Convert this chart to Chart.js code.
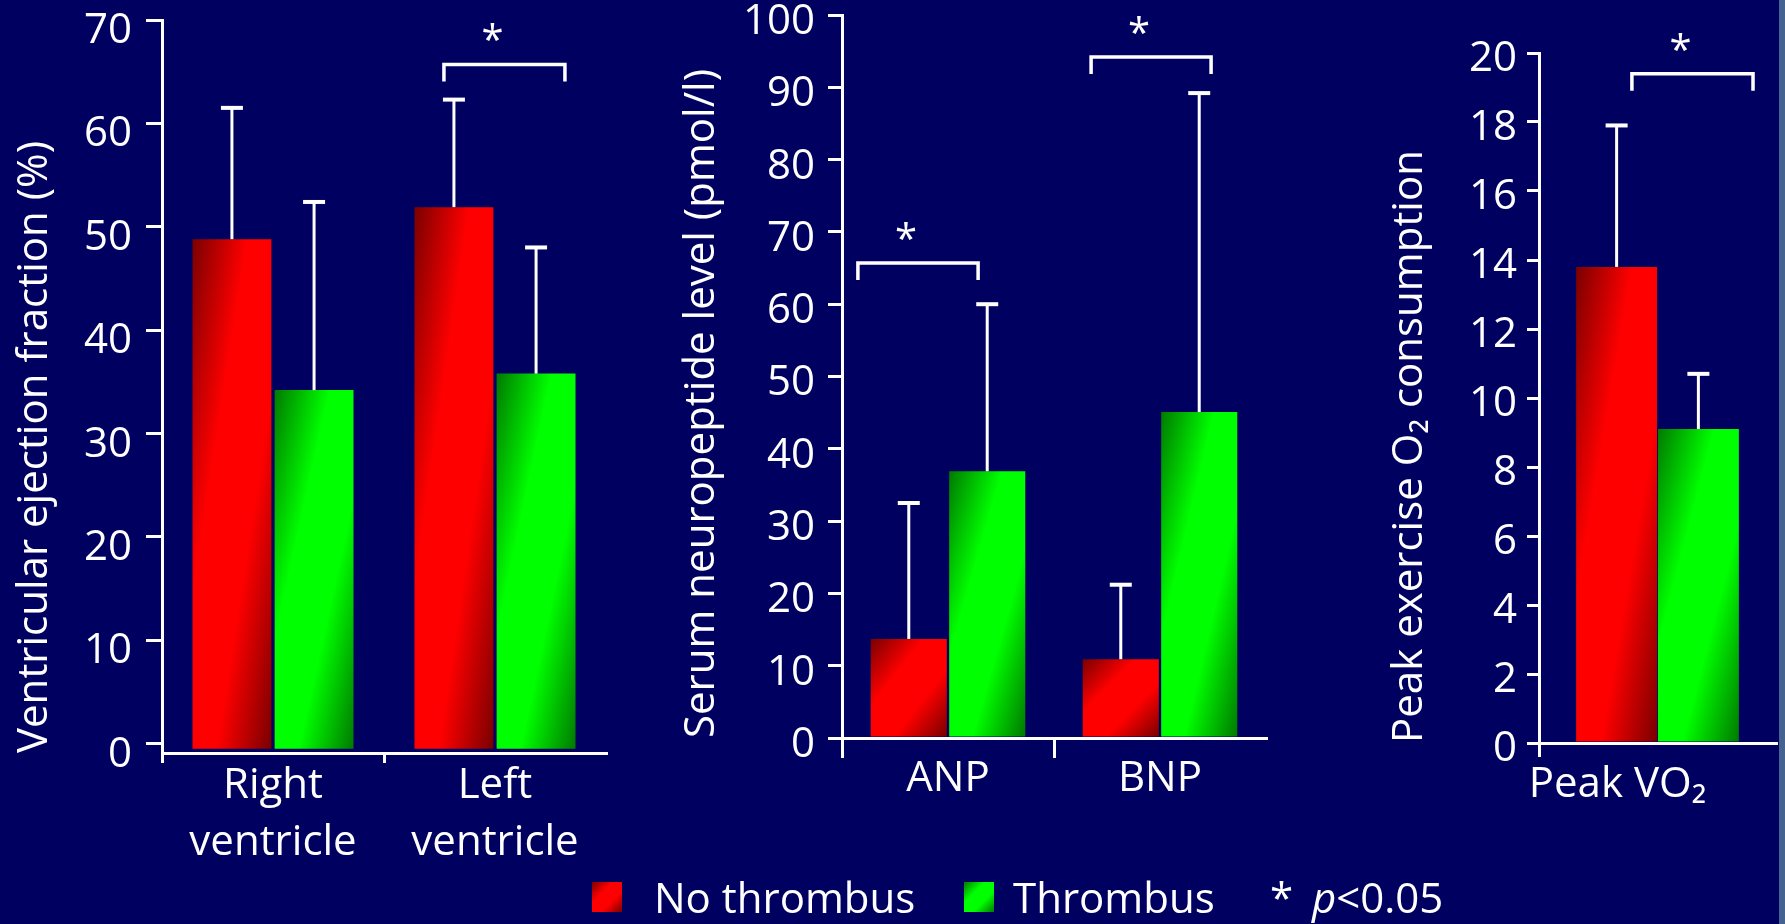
<!DOCTYPE html>
<html>
<head>
<meta charset="utf-8">
<title>Thrombus</title>
<script src="https://cdn.jsdelivr.net/npm/chart.js@4.4.1/dist/chart.umd.min.js"></script>
<style>
  html, body { margin: 0; padding: 0; }
  body {
    width: 1785px; height: 924px; position: relative; overflow: hidden;
    background: #000060; color: #fff; font-family: 'Open Sans', sans-serif;
  }
  canvas { position: absolute; top: 0; }
  #ef { left: 0; }
  #pep { left: 640px; }
  #vo2 { left: 1300px; }
  .edge { position: absolute; left: 1779px; top: 0; width: 6px; height: 924px; background: #46628f; }
  .key { position: absolute; top: 882px; width: 30px; height: 30px; }
  .red { left: 592px; background: linear-gradient(135deg, #7a0000 0%, #ff0000 35%, #ff0000 65%, #7a0000 100%); }
  .green { left: 964px; background: linear-gradient(135deg, #007a00 0%, #00ff00 35%, #00ff00 65%, #007a00 100%); }
  .txt { position: absolute; top: 876px; font-size: 42px; line-height: 42px; white-space: nowrap; }
</style>
</head>
<body>
<canvas id="ef" width="640" height="870"></canvas>
<canvas id="pep" width="660" height="870"></canvas>
<canvas id="vo2" width="485" height="870"></canvas>
<div class="edge"></div>
<div class="key red"></div><div class="txt" style="left:654px">No thrombus</div>
<div class="key green"></div><div class="txt" style="left:1013px">Thrombus</div>
<div class="txt" style="left:1270px">*</div>
<div class="txt" style="left:1312px"><i>p</i>&lt;0.05</div>
<script>
Chart.defaults.font.family = "'Open Sans', sans-serif";
Chart.defaults.font.size = 42;
Chart.defaults.color = '#fff';

// ventricular ejection fraction (%), mean and SD
const efLabels = [['Right', 'ventricle'], ['Left', 'ventricle']];
const efNoThrombus = [48.8, 51.9];
const efThrombus = [34.2, 35.8];
const efNoThrombusSD = [12.7, 10.4];
const efThrombusSD = [18.2, 12.2];
// p<0.05 brackets: category, span around it (in category widths), height
const efStars = [{at: 1, from: -0.23, to: 0.315, level: 65.7}];

// serum neuropeptides (pmol/l)
const pepLabels = ['ANP', 'BNP'];
const pepNoThrombus = [13.7, 10.9];
const pepThrombus = [36.9, 45.1];
const pepNoThrombusSD = [18.8, 10.3];
const pepThrombusSD = [23.1, 44.1];
const pepStars = [
  {at: 0, from: -0.425, to: 0.142, level: 65.7},
  {at: 1, from: -0.325, to: 0.241, level: 94.2}
];

// peak exercise O2 consumption
const vo2Labels = ['Peak VO₂'];
const vo2NoThrombus = [13.8];
const vo2Thrombus = [9.1];
const vo2NoThrombusSD = [4.1];
const vo2ThrombusSD = [1.6];
const vo2Stars = [{at: 0, from: -0.108, to: 0.403, level: 19.4}];

// diagonal dark-light-dark fill across one bar
function shade(ctx, bar, dark, light) {
  const {x, y, base, width} = bar.getProps(['x', 'y', 'base', 'width'], true);
  const l = x - width / 2, t = Math.min(y, base);
  const w = width, h = Math.abs(base - y);
  const k = 2 * w * h / (w * w + h * h);
  const g = ctx.createLinearGradient(l, t, l + k * h, t + k * w);
  g.addColorStop(0, dark);
  g.addColorStop(0.35, light);
  g.addColorStop(0.65, light);
  g.addColorStop(1, dark);
  return g;
}

const decor = {
  id: 'decor',
  beforeDatasetsDraw(chart) {
    chart.data.datasets.forEach((ds, i) => {
      chart.getDatasetMeta(i).data.forEach(bar => {
        const fill = shade(chart.ctx, bar, ds.shade[0], ds.shade[1]);
        bar.options = Object.assign({}, bar.options, {backgroundColor: fill});
      });
    });
  },
  afterDatasetsDraw(chart, args, opts) {
    const ctx = chart.ctx;
    const {x, y} = chart.scales;
    ctx.save();
    ctx.strokeStyle = '#fff';
    ctx.fillStyle = '#fff';
    // upper SD whiskers
    chart.data.datasets.forEach((ds, i) => {
      chart.getDatasetMeta(i).data.forEach((bar, j) => {
        const top = y.getPixelForValue(ds.data[j] + ds.sd[j]);
        ctx.lineWidth = 3;
        ctx.beginPath();
        ctx.moveTo(bar.x, bar.y);
        ctx.lineTo(bar.x, top);
        ctx.stroke();
        ctx.lineWidth = 4;
        ctx.beginPath();
        ctx.moveTo(bar.x - 11, top);
        ctx.lineTo(bar.x + 11, top);
        ctx.stroke();
      });
    });
    // significance brackets
    const cat = x.width / chart.data.labels.length;
    ctx.font = "40px 'Open Sans', sans-serif";
    ctx.textAlign = 'center';
    ctx.textBaseline = 'alphabetic';
    (opts.stars || []).forEach(s => {
      const mid = x.getPixelForValue(s.at);
      const x0 = mid + s.from * cat, x1 = mid + s.to * cat;
      const yb = y.getPixelForValue(s.level);
      ctx.lineWidth = 3.5;
      ctx.beginPath();
      ctx.moveTo(x0, yb + 17);
      ctx.lineTo(x0, yb);
      ctx.lineTo(x1, yb);
      ctx.lineTo(x1, yb + 17);
      ctx.stroke();
      ctx.fillText('*', (x0 + x1) / 2 - 12, yb - 10);
    });
    ctx.restore();
  }
};

function panel(id, p) {
  const bar = {categoryPercentage: p.catPct, barPercentage: p.barPct, base: p.base};
  return new Chart(document.getElementById(id), {
    type: 'bar',
    data: {
      labels: p.labels,
      datasets: [
        Object.assign({label: 'No thrombus', data: p.noThrombus, sd: p.noThrombusSD, shade: ['#7a0000', '#ff0000']}, bar),
        Object.assign({label: 'Thrombus', data: p.thrombus, sd: p.thrombusSD, shade: ['#007a00', '#00ff00']}, bar)
      ]
    },
    options: {
      responsive: false,
      animation: false,
      devicePixelRatio: 1,
      layout: {padding: p.padding},
      plugins: {
        legend: {display: false},
        tooltip: {enabled: false},
        decor: {stars: p.stars}
      },
      scales: {
        x: {
          grid: {
            drawOnChartArea: false,
            color: c => p.marks[c.index] ? '#fff' : 'transparent',
            lineWidth: 3,
            tickLength: p.xTick
          },
          border: {color: '#fff', width: 3},
          ticks: {
            padding: p.xPad,
            labelOffset: p.labelOffset || 0,
            maxRotation: 0,
            autoSkip: false,
            font: {size: 42, lineHeight: 1.357}
          },
          afterFit: s => { s.height = p.xHeight; s.paddingLeft = 0; s.paddingRight = 0; }
        },
        y: {
          min: p.min,
          max: p.max,
          ticks: {stepSize: p.step, includeBounds: false, padding: p.yPad, labelOffset: p.yShift},
          grid: {drawOnChartArea: false, color: '#fff', lineWidth: 3, tickLength: p.yTick},
          border: {color: '#fff', width: 3},
          title: {
            display: true,
            text: p.title,
            align: 'start',
            padding: {top: p.titlePad, bottom: 0},
            font: {size: 42}
          },
          afterFit: s => { s.width = p.yWidth; s.paddingTop = 0; s.paddingBottom = 0; }
        }
      }
    },
    plugins: [decor]
  });
}

panel('ef', {
  labels: efLabels,
  noThrombus: efNoThrombus, thrombus: efThrombus,
  noThrombusSD: efNoThrombusSD, thrombusSD: efThrombusSD,
  stars: efStars,
  title: 'Ventricular ejection fraction (%)',
  min: -0.9, max: 70, step: 10, base: -0.5,
  catPct: 0.74, barPct: 0.96,
  padding: {top: 20, right: 34, left: 0, bottom: 0},
  yWidth: 162, yTick: 16, yPad: 14, yShift: 11, titlePad: 10,
  xHeight: 117, xTick: 10, xPad: -5, marks: [true, true]
});

panel('pep', {
  labels: pepLabels,
  noThrombus: pepNoThrombus, thrombus: pepThrombus,
  noThrombusSD: pepNoThrombusSD, thrombusSD: pepThrombusSD,
  stars: pepStars,
  title: 'Serum neuropeptide level (pmol/l)',
  min: 0, max: 100, step: 10,
  catPct: 0.74, barPct: 0.97,
  padding: {top: 15, right: 34, left: 0, bottom: 0},
  yWidth: 202, yTick: 14, yPad: 13, yShift: 7, titlePad: 37,
  xHeight: 132, xTick: 20, xPad: -7, marks: [true, true]
});

panel('vo2', {
  labels: vo2Labels,
  noThrombus: vo2NoThrombus, thrombus: vo2Thrombus,
  noThrombusSD: vo2NoThrombusSD, thrombusSD: vo2ThrombusSD,
  stars: vo2Stars,
  title: 'Peak exercise O₂ consumption',
  min: 0, max: 20, step: 2,
  catPct: 0.69, barPct: 0.99,
  padding: {top: 53, right: 9, left: 0, bottom: 0},
  yWidth: 239, yTick: 12, yPad: 10, yShift: 6, titlePad: 85,
  xHeight: 127, xTick: 14, xPad: 0, labelOffset: -40, marks: [true]
});
</script>
</body>
</html>
